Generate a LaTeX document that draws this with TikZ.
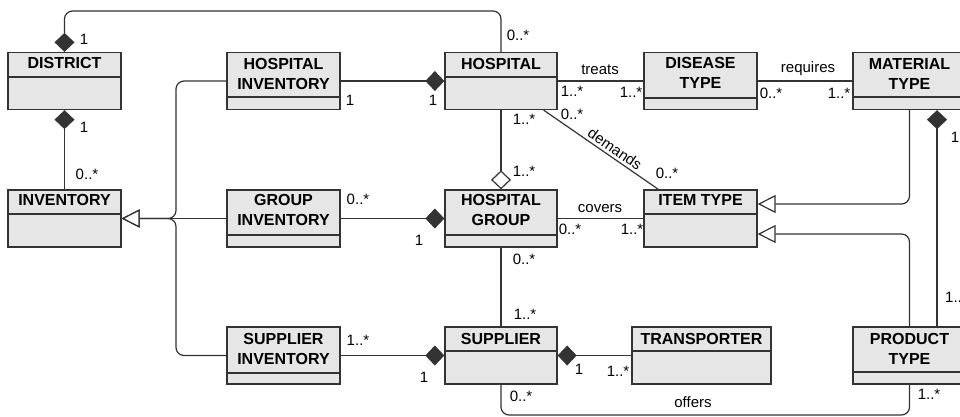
\documentclass[tikz,border=0pt]{standalone}
\usepackage{fontspec}
\setmainfont{Liberation Sans}
\usetikzlibrary{arrows.meta}
\definecolor{boxfill}{HTML}{E6E6E6}
\definecolor{linec}{HTML}{333333}
\begin{document}
\begin{tikzpicture}[x=1pt,y=-1pt,
  cls/.style={draw=linec, fill=boxfill, line width=1.3pt, inner sep=0pt, minimum height=57pt, minimum width=113pt},
  sepline/.style={draw=linec, line width=1.3pt},
  ttl/.style={font=\fontsize{16}{20.5}\selectfont\bfseries, align=center, inner sep=0pt, anchor=north},
  lbl/.style={font=\fontsize{15}{18}\selectfont, inner sep=0pt},
  conn/.style={draw=linec, line width=1.2pt, rounded corners=8pt},
  comp/.style={arrows={Diamond[length=19pt,width=20pt]-}},
  aggr/.style={arrows={Diamond[open,length=19pt,width=20pt,fill=white]-}},
  gen/.style={arrows={-Triangle[open,length=18pt,width=18pt,fill=white]}}
]
\useasboundingbox (0,0) rectangle (960,417);

% ---------- classes ----------
\node[cls] (district) at (64.5,81) {};
\draw[sepline] (8,77) -- (121,77);
\node[ttl] (districtT) at (64.5,57) {DISTRICT};

\node[cls] (inventory) at (64.5,218.5) {};
\draw[sepline] (8,214) -- (121,214);
\node[ttl] (inventoryT) at (64.5,194) {INVENTORY};

\node[cls] (hinv) at (283.5,81) {};
\draw[sepline] (227,97) -- (340,97);
\node[ttl] (hinvT) at (283.5,58) {HOSPITAL\\INVENTORY};

\node[cls, minimum width=112pt] (hosp) at (501,81) {};
\draw[sepline] (445,77) -- (557,77);
\node[ttl] (hospT) at (501,58) {HOSPITAL};

\node[cls] (disease) at (700.5,81) {};
\draw[sepline] (644,98) -- (757,98);
\node[ttl] (diseaseT) at (700.5,57) {DISEASE\\TYPE};

\node[cls] (material) at (909.5,81) {};
\draw[sepline] (853,97) -- (966,97);
\node[ttl] (materialT) at (909.5,58) {MATERIAL\\TYPE};

\node[cls] (ginv) at (283.5,218.5) {};
\draw[sepline] (227,235) -- (340,235);
\node[ttl] (ginvT) at (283.5,194) {GROUP\\INVENTORY};

\node[cls, minimum width=112pt] (hgroup) at (501,218.5) {};
\draw[sepline] (445,235) -- (557,235);
\node[ttl] (hgroupT) at (501,194) {HOSPITAL\\GROUP};

\node[cls] (item) at (700.5,218.5) {};
\draw[sepline] (644,214) -- (757,214);
\node[ttl] (itemT) at (700.5,194) {ITEM TYPE};

\node[cls] (sinv) at (283.5,355.5) {};
\draw[sepline] (227,373) -- (340,373);
\node[ttl] (sinvT) at (283.5,333) {SUPPLIER\\INVENTORY};

\node[cls, minimum width=112pt] (supplier) at (501,355.5) {};
\draw[sepline] (445,351) -- (557,351);
\node[ttl] (supplierT) at (501,333) {SUPPLIER};

\node[cls, minimum width=139pt] (transp) at (701.5,355.5) {};
\draw[sepline] (632,351) -- (771,351);
\node[ttl] (transpT) at (701.5,333) {TRANSPORTER};

\node[cls] (product) at (909.5,355.5) {};
\draw[sepline] (853,372) -- (966,372);
\node[ttl] (productT) at (909.5,333) {PRODUCT\\TYPE};

% ---------- helper coordinates ----------
\coordinate (topline) at (0,11);
\coordinate (jn) at (176,218.5);
\coordinate (offb) at (700,415);

% ---------- connectors ----------
\draw[conn, comp] (district.north) -- (district.north |- topline) -- (hosp.north |- topline) -- (hosp.north);
\draw[conn, comp] (district.south) -- (inventory.north);
\draw[conn, comp] (hosp.west) -- (hinv.east);
\draw[conn] (hosp.east) -- (disease.west);
\draw[conn] (disease.east) -- (material.west);
\draw[conn] ([xshift=-14pt]hosp.south east) -- node[lbl, sloped, above, inner sep=2.5pt, pos=0.58] (demandsL) {demands} ([xshift=15pt]item.north west);
\draw[conn, aggr] (hgroup.north) -- (hosp.south);
\draw[conn, comp] (hgroup.west) -- (ginv.east);
\draw[conn] (hgroup.east) -- (item.west);
\draw[conn] (hgroup.south) -- (supplier.north);
\draw[conn, comp] (supplier.west) -- (sinv.east);
\draw[conn, comp] (supplier.east) -- (transp.west);
\draw[conn] (supplier.south) |- (offb) -| (product.south);

\draw[conn, gen] (hinv.west) -| (jn) -- (inventory.east);
\draw[conn, gen] (ginv.west) -- (inventory.east);
\draw[conn, gen] (sinv.west) -| (jn) -- (inventory.east);

\draw[conn, gen] (material.south) |- ([yshift=14.5pt]item.east);
\draw[conn, gen] (product.north) |- ([yshift=-15.5pt]item.east);
\draw[conn, comp] ([xshift=27.5pt]material.south) -- ([xshift=27.5pt]product.north);

% ---------- labels ----------
\node[lbl] (l1) at (84,39) {1};
\node[lbl] (l2) at (518,35) {0..*};
\node[lbl] (l3) at (84,127) {1};
\node[lbl] (l4) at (87,174) {0..*};
\node[lbl] (l5) at (350,100) {1};
\node[lbl] (l6) at (433,100) {1};
\node[lbl] (l7) at (600,70) {treats};
\node[lbl] (l8) at (572,91) {1..*};
\node[lbl] (l9) at (631,92) {1..*};
\node[lbl] (l10) at (808,69) {requires};
\node[lbl] (l11) at (771,93) {0..*};
\node[lbl] (l12) at (839,93) {1..*};
\node[lbl] (l13) at (524,119) {1..*};
\node[lbl] (l14) at (572,114) {0..*};
\node[lbl] (l15) at (667,173) {0..*};
\node[lbl] (l16) at (524,171) {1..*};
\node[lbl] (l17) at (358,199) {0..*};
\node[lbl] (l18) at (419,240) {1};
\node[lbl] (l19) at (600,209) {covers};
\node[lbl] (l20) at (570,229) {0..*};
\node[lbl] (l21) at (632,229) {1..*};
\node[lbl] (l22) at (524,259) {0..*};
\node[lbl] (l23) at (525,314) {1..*};
\node[lbl] (l24) at (358,340) {1..*};
\node[lbl] (l25) at (424,377) {1};
\node[lbl] (l26) at (579,369) {1};
\node[lbl] (l27) at (618,371) {1..*};
\node[lbl] (l28) at (521,396) {0..*};
\node[lbl] (l29) at (693,402) {offers};
\node[lbl] (l30) at (929,394) {1..*};
\node[lbl, anchor=west] (l31) at (945,297) {1..*};
\node[lbl] (l32) at (955,137) {1};
\end{tikzpicture}
\end{document}
